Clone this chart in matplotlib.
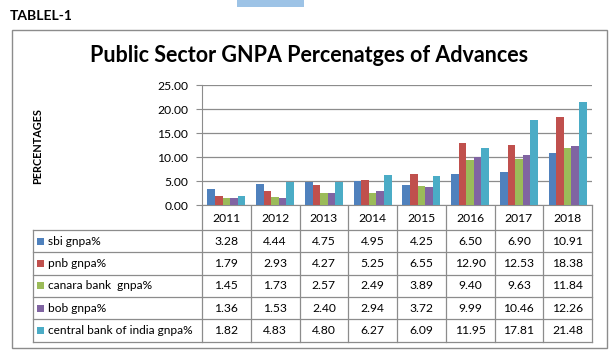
import numpy as np
import matplotlib.pyplot as plt
from matplotlib.patches import Rectangle

plt.rcParams['font.family'] = ['Lato', 'DejaVu Sans']

# data
years = ['2011', '2012', '2013', '2014', '2015', '2016', '2017', '2018']
banks = ['sbi gnpa%', 'pnb gnpa%', 'canara bank  gnpa%', 'bob gnpa%',
         'central bank of india gnpa%']
sbi = [3.28, 4.44, 4.75, 4.95, 4.25, 6.50, 6.90, 10.91]
pnb = [1.79, 2.93, 4.27, 5.25, 6.55, 12.90, 12.53, 18.38]
canara = [1.45, 1.73, 2.57, 2.49, 3.89, 9.40, 9.63, 11.84]
bob = [1.36, 1.53, 2.40, 2.94, 3.72, 9.99, 10.46, 12.26]
cbi = [1.82, 4.83, 4.80, 6.27, 6.09, 11.95, 17.81, 21.48]
series = [sbi, pnb, canara, bob, cbi]
colors = ['#4F81BD', '#C0504D', '#9BBB59', '#8064A2', '#4BACC6']

W, H = 612, 356
fig = plt.figure(figsize=(W / 100, H / 100), dpi=100)

# pixel-space overlay for frame, labels and table
bg = fig.add_axes([0, 0, 1, 1])
bg.set_xlim(0, W)
bg.set_ylim(H, 0)
bg.axis('off')

bg.add_patch(Rectangle((237, 0), 67, 7, color='#9DC3E6', lw=0))
bg.text(10, 16, 'TABLEL-1', fontsize=10, fontweight='bold', va='center')
bg.add_patch(Rectangle((12, 30), 595, 318, fill=False, ec='#8C8C8C', lw=1))
bg.text(309, 55, 'Public Sector GNPA Percenatges of Advances', fontsize=15.5,
        fontweight='bold', ha='center', va='center')
bg.text(38, 146, 'PERCENTAGES', fontsize=7.8, fontweight='bold',
        rotation=90, ha='center', va='center')

# chart
left, right, top, bottom = 202, 592, 85, 205
ax = fig.add_axes([left / W, 1 - bottom / H, (right - left) / W, (bottom - top) / H])
x = np.arange(len(years))
bw = 0.155
for i, (vals, c) in enumerate(zip(series, colors)):
    ax.bar(x + (i - 2) * bw, vals, bw, color=c, zorder=3)
ax.set_xlim(-0.5, len(years) - 0.5)
ax.set_ylim(0, 25)
ax.set_yticks(np.arange(0, 26, 5))
ax.set_yticklabels([f'{v:.2f}' for v in np.arange(0, 26, 5)], fontsize=8.7)
ax.set_xticks([])
ax.yaxis.grid(True, color='#8C8C8C', lw=0.9, zorder=0)
for s in ['top', 'right']:
    ax.spines[s].set_visible(False)
ax.spines['left'].set_color('#8C8C8C')
ax.spines['bottom'].set_color('#8C8C8C')
ax.tick_params(axis='y', length=4, color='#8C8C8C', pad=6)

# table
cw = (right - left) / len(years)
tab_left = 33
hdr_bot = 230
rh = 22.3
tab_bot = hdr_bot + rh * len(banks)
lc = '#8C8C8C'
# vertical lines between year columns
for j in range(len(years) + 1):
    xx = left + j * cw
    bg.plot([xx, xx], [bottom, tab_bot], color=lc, lw=0.9)
bg.plot([tab_left, tab_left], [hdr_bot, tab_bot], color=lc, lw=0.9)
for r in range(len(banks) + 1):
    yy = hdr_bot + r * rh
    bg.plot([tab_left, right], [yy, yy], color=lc, lw=0.9)
for j, yr in enumerate(years):
    bg.text(left + (j + 0.5) * cw, (bottom + hdr_bot) / 2 + 1, yr,
            fontsize=8.7, ha='center', va='center')
for r, (name, vals, c) in enumerate(zip(banks, series, colors)):
    yc = hdr_bot + (r + 0.5) * rh
    bg.add_patch(Rectangle((37, yc - 3.5), 7, 7, color=c, lw=0))
    bg.text(48, yc, name, fontsize=8.6, ha='left', va='center')
    for j, v in enumerate(vals):
        bg.text(left + (j + 0.5) * cw, yc, f'{v:.2f}', fontsize=8.7,
                ha='center', va='center')

fig.savefig('out.png', dpi=100)
